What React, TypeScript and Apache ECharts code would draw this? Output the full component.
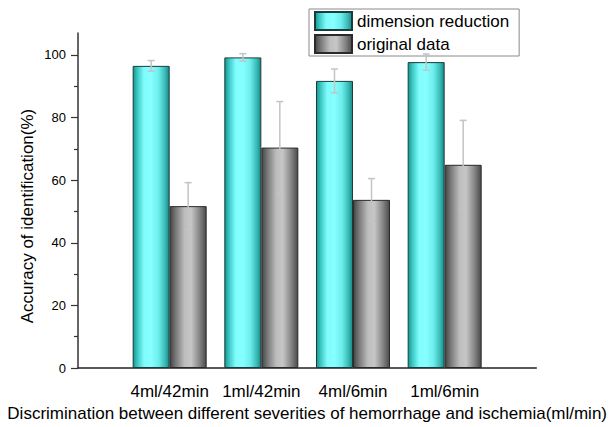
import React, { useEffect, useRef } from "react";
import * as echarts from "echarts";

const CATEGORIES = ["4ml/42min", "1ml/42min", "4ml/6min", "1ml/6min"];
const DIM_VALUES = [96.5, 99.2, 91.7, 97.7];
const DIM_ERRORS = [1.7, 1.2, 3.8, 2.6];
const ORIG_VALUES = [51.7, 70.4, 53.7, 64.9];
const ORIG_ERRORS = [7.5, 14.7, 6.8, 14.2];
const Y_MAJOR = [0, 20, 40, 60, 80, 100];
const Y_MINOR = [10, 30, 50, 70, 90];
const SERIES_NAMES = ["dimension reduction", "original data"];
const X_TITLE = "Discrimination between different severities of hemorrhage and ischemia(ml/min)";
const Y_TITLE = "Accuracy of identification(%)";

const FONT = "'Liberation Sans', Arial, Helvetica, sans-serif";
const BAR_W = 37;

const cyanGrad = new echarts.graphic.LinearGradient(0, 0, 1, 0, [
  { offset: 0, color: "#169590" },
  { offset: 0.12, color: "#3cc8c4" },
  { offset: 0.3, color: "#7ffcfc" },
  { offset: 0.5, color: "#86ffff" },
  { offset: 0.7, color: "#6eeeee" },
  { offset: 0.88, color: "#3cbcb8" },
  { offset: 1, color: "#168a86" },
]);
const grayGrad = new echarts.graphic.LinearGradient(0, 0, 1, 0, [
  { offset: 0, color: "#454545" },
  { offset: 0.15, color: "#777777" },
  { offset: 0.4, color: "#bdbdbd" },
  { offset: 0.58, color: "#c6c6c6" },
  { offset: 0.8, color: "#8a8a8a" },
  { offset: 1, color: "#4a4a4a" },
]);

function errSeries(values: number[], errors: number[], offset: number) {
  return {
    type: "custom",
    z: 10,
    silent: true,
    data: values.map((v, i) => [i + 1, v, errors[i]]),
    renderItem: (params: any, api: any) => {
      const x = api.value(0);
      const y = api.value(1);
      const e = api.value(2);
      const top = api.coord([x, y + e]);
      const bot = api.coord([x, y - e]);
      const cx = top[0] + offset;
      const cap = 3.5;
      const style = { stroke: "#c4c4c4", lineWidth: 1.5 };
      return {
        type: "group",
        children: [
          { type: "line", shape: { x1: cx, y1: top[1], x2: cx, y2: bot[1] }, style },
          { type: "line", shape: { x1: cx - cap, y1: top[1], x2: cx + cap, y2: top[1] }, style },
          { type: "line", shape: { x1: cx - cap, y1: bot[1], x2: cx + cap, y2: bot[1] }, style },
        ],
      };
    },
  };
}

export default function App() {
  const ref = useRef<HTMLDivElement>(null);
  useEffect(() => {
    if (!ref.current) return;
    const chart = echarts.init(ref.current, undefined, { renderer: "svg" });
    chart.setOption({
      animation: false,
      backgroundColor: "#ffffff",
      textStyle: { fontFamily: FONT },
      grid: { left: 78, top: 33, right: 69, bottom: 55, containLabel: false },
      legend: {
        orient: "vertical",
        left: 309,
        top: 9,
        data: SERIES_NAMES,
        icon: "rect",
        itemWidth: 37,
        itemHeight: 18,
        itemGap: 3,
        padding: [2, 10, 2, 5],
        borderColor: "#8a8a8a",
        borderWidth: 1,
        backgroundColor: "#ffffff",
        textStyle: { fontSize: 17, color: "#000", fontFamily: FONT, lineHeight: 18 },
        selectedMode: false,
      },
      xAxis: {
        type: "value",
        min: 0,
        max: 5,
        interval: 1,
        axisLine: { show: true, onZero: false, lineStyle: { color: "#222", width: 1.5 } },
        axisTick: { show: false },
        splitLine: { show: false },
        axisLabel: {
          fontSize: 17,
          color: "#000",
          margin: 15,
          fontFamily: FONT,
          formatter: (v: number) => CATEGORIES[v - 1] ?? "",
        },
        name: X_TITLE,
        nameLocation: "middle",
        nameGap: 37,
        nameTextStyle: { fontSize: 17, color: "#000", fontFamily: FONT },
      },
      yAxis: [
        {
          type: "value",
          min: 0,
          max: 107,
          interval: 20,
          axisLine: { show: true, lineStyle: { color: "#333", width: 1.5 } },
          axisTick: { show: true, length: 7, customValues: Y_MAJOR, lineStyle: { color: "#333", width: 1.2 } },
          axisLabel: { fontSize: 13, color: "#000", margin: 12, fontFamily: FONT, customValues: Y_MAJOR },
          splitLine: { show: false },
        },
        {
          type: "value",
          min: 0,
          max: 107,
          position: "left",
          offset: 0,
          axisLine: { show: false },
          axisTick: { show: true, length: 4, customValues: Y_MINOR, lineStyle: { color: "#333", width: 1.2 } },
          axisLabel: { show: false },
          splitLine: { show: false },
        },
      ],
      graphic: [
        {
          type: "text",
          x: 27,
          y: 216,
          rotation: Math.PI / 2,
          style: {
            text: Y_TITLE,
            fontSize: 17,
            fontFamily: FONT,
            fill: "#000",
            align: "center",
            verticalAlign: "middle",
          },
        },
      ],
      series: [
        {
          name: SERIES_NAMES[0],
          type: "bar",
          barWidth: BAR_W,
          barGap: "0%",
          data: DIM_VALUES.map((v, i) => [i + 1, v]),
          itemStyle: { color: cyanGrad, borderColor: "#1c3c3c", borderWidth: 1 },
        },
        {
          name: SERIES_NAMES[1],
          type: "bar",
          barWidth: BAR_W,
          barGap: "0%",
          data: ORIG_VALUES.map((v, i) => [i + 1, v]),
          itemStyle: { color: grayGrad, borderColor: "#2a2a2a", borderWidth: 1 },
        },
        errSeries(DIM_VALUES, DIM_ERRORS, -BAR_W / 2),
        errSeries(ORIG_VALUES, ORIG_ERRORS, BAR_W / 2),
      ],
    });
    return () => chart.dispose();
  }, []);
  return (
    <div
      ref={ref}
      style={{ position: "fixed", left: 0, top: 0, width: 610, height: 427 }}
    />
  );
}
